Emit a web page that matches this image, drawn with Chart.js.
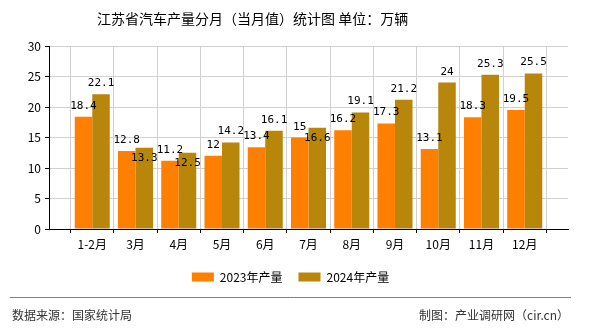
<!DOCTYPE html>
<html>
<head>
<meta charset="utf-8">
<script src="https://cdn.jsdelivr.net/npm/chart.js@4/dist/chart.umd.min.js"></script>
<style>
  body { margin: 0; background: #fff; }
  canvas { display: block; }
</style>
</head>
<body>
<canvas id="grafico" width="590" height="330"></canvas>
<script>
// 江苏省汽车产量（万辆）
const meses = ['1-2月', '3月', '4月', '5月', '6月', '7月', '8月', '9月', '10月', '11月', '12月'];
const prod2023 = [18.4, 12.8, 11.2, 12, 13.4, 15, 16.2, 17.3, 13.1, 18.3, 19.5];
const prod2024 = [22.1, 13.3, 12.5, 14.2, 16.1, 16.6, 19.1, 21.2, 24, 25.3, 25.5];
const yTicks = [0, 5, 10, 15, 20, 25, 30];

const cjk = '"Noto Sans CJK SC", "Noto Sans", sans-serif';

// a blank slot on each side so the gridlines fall on the category centres
const labels = [''].concat(meses, ['']);
const pad = arr => [null].concat(arr, [null]);

const etiquetas = {
  id: 'etiquetas',
  afterDatasetsDraw(chart) {
    const ctx = chart.ctx;
    const m0 = chart.getDatasetMeta(0);
    const m1 = chart.getDatasetMeta(1);
    ctx.save();
    ctx.font = '11px "DejaVu Sans Mono", monospace';
    ctx.fillStyle = '#000';
    ctx.textAlign = 'center';
    ctx.textBaseline = 'alphabetic';
    m0.data.forEach((bar, i) => {
      const v = chart.data.datasets[0].data[i];
      if (v == null) return;
      ctx.fillText(String(v), bar.x, bar.y - 8);
    });
    m1.data.forEach((bar, i) => {
      const v = chart.data.datasets[1].data[i];
      if (v == null) return;
      const other = m0.data[i];
      // put it under the bar top when it would run into the 2023 label
      if (Math.abs(other.y - bar.y) < 12) {
        ctx.fillText(String(v), bar.x, bar.y + 13);
      } else {
        ctx.fillText(String(v), bar.x, bar.y - 8);
      }
    });
    ctx.restore();
  }
};

const textos = {
  id: 'textos',
  afterDraw(chart) {
    const ctx = chart.ctx;
    ctx.save();
    ctx.fillStyle = '#000';
    ctx.font = '14px ' + cjk;
    ctx.textBaseline = 'middle';
    ctx.textAlign = 'left';
    ctx.fillText('江苏省汽车产量分月（当月值）统计图 单位：万辆', 97, 19);

    ctx.strokeStyle = '#808080';
    ctx.lineWidth = 1;
    ctx.beginPath();
    ctx.moveTo(10, 297.5);
    ctx.lineTo(571, 297.5);
    ctx.stroke();

    ctx.fillStyle = '#333';
    ctx.font = '12px ' + cjk;
    ctx.fillText('数据来源：国家统计局', 12, 315);
    ctx.textAlign = 'right';
    ctx.fillText('制图：产业调研网（cir.cn）', 569, 315);
    ctx.restore();
  }
};

new Chart(document.getElementById('grafico').getContext('2d'), {
  type: 'bar',
  data: {
    labels: labels,
    datasets: [{
      label: '2023年产量',
      data: pad(prod2023),
      backgroundColor: '#ff8000',
      categoryPercentage: 0.81,
      barPercentage: 1
    }, {
      label: '2024年产量',
      data: pad(prod2024),
      backgroundColor: '#b8860b',
      categoryPercentage: 0.81,
      barPercentage: 1
    }]
  },
  options: {
    responsive: false,
    animation: false,
    layout: { padding: { left: 13, right: 22, top: 46, bottom: 37 } },
    scales: {
      x: {
        offset: false,
        grid: { color: '#d0d0d0', tickColor: '#000', tickLength: 4 },
        border: { color: '#000' },
        ticks: {
          autoSkip: false, maxRotation: 0, padding: 4,
          color: '#000', font: { family: cjk, size: 12 }
        },
        afterFit: s => { s.height = 26; }
      },
      y: {
        min: 0,
        max: 30,
        afterBuildTicks: s => { s.ticks = yTicks.map(v => ({ value: v })); },
        grid: { color: '#d0d0d0', tickColor: '#000', tickLength: 4 },
        border: { color: '#000' },
        ticks: { padding: 4, color: '#000', font: { family: cjk, size: 12 } },
        afterFit: s => { s.width = 36; }
      }
    },
    plugins: {
      legend: {
        position: 'bottom',
        labels: {
          boxWidth: 22, boxHeight: 9, padding: 16,
          color: '#000', font: { family: cjk, size: 12 }
        }
      },
      tooltip: { enabled: false }
    }
  },
  plugins: [etiquetas, textos]
});
</script>
</body>
</html>
